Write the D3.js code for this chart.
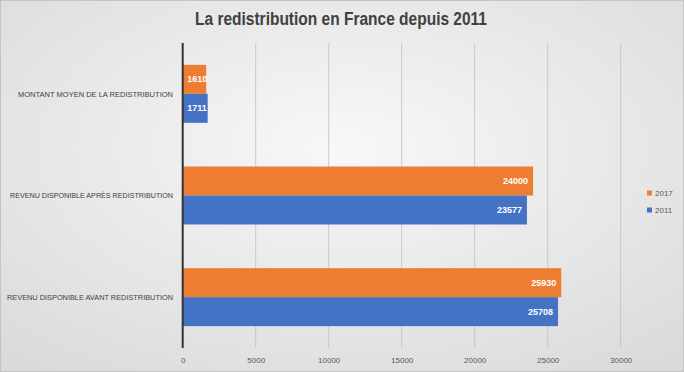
<!DOCTYPE html>
<html>
<head>
<meta charset="utf-8">
<script src="https://cdn.jsdelivr.net/npm/d3@7"></script>
<style>
  body { margin: 0; }
  svg { display: block; }
</style>
</head>
<body>
<svg id="chart"></svg>
<script>
// data
const categories = ["MONTANT MOYEN  DE LA REDISTRIBUTION", "REVENU DISPONIBLE APRÈS REDISTRIBUTION", "REVENU DISPONIBLE AVANT  REDISTRIBUTION"];
const seriesNames = ["2017", "2011"];
const values2017 = [1610, 24000, 25930];
const values2011 = [1711, 23577, 25708];
const tickValues = [0, 5000, 10000, 15000, 20000, 25000, 30000];
const colors = { "2017": "#ED7D31", "2011": "#4472C4" };

const W = 684, H = 372;
const font = "'Liberation Sans', Arial, sans-serif";
const svg = d3.select("#chart").attr("width", W).attr("height", H);

// background gradient
const defs = svg.append("defs");
const grad = defs.append("radialGradient").attr("id", "bg")
    .attr("cx", "50%").attr("cy", "40%").attr("r", "75%");
grad.append("stop").attr("offset", "0%").attr("stop-color", "#f8f8f8");
grad.append("stop").attr("offset", "100%").attr("stop-color", "#dadada");
svg.append("rect").attr("x", 0.5).attr("y", 0.5).attr("width", W - 1).attr("height", H - 1)
    .attr("fill", "url(#bg)").attr("stroke", "#c4c4c4");

// title
svg.append("text")
    .attr("x", 195).attr("y", 25)
    .attr("textLength", 292).attr("lengthAdjust", "spacingAndGlyphs")
    .attr("font-family", font)
    .attr("font-weight", "bold")
    .attr("font-size", 18)
    .attr("fill", "#404040")
    .text("La redistribution en France depuis 2011");

const x = d3.scaleLinear().domain([0, 30000]).range([182.7, 620.7]);
const y = d3.scaleBand().domain(categories).range([43, 348]).paddingInner(0.43).paddingOuter(0.215);
const ySub = d3.scaleBand().domain(seriesNames).range([0, y.bandwidth()]);

// gridlines
svg.append("g").selectAll("line").data(tickValues.slice(1)).join("line")
    .attr("x1", d => x(d)).attr("x2", d => x(d))
    .attr("y1", 43).attr("y2", 348)
    .attr("stroke", "#bfbfbf").attr("stroke-width", 0.8);

// x axis labels
const xAxis = d3.axisBottom(x).tickValues(tickValues).tickSize(0).tickPadding(0).tickFormat(d3.format("d"));
const gx = svg.append("g").attr("transform", "translate(0,357)").call(xAxis);
gx.select(".domain").remove();
gx.selectAll("text")
    .attr("font-family", font)
    .attr("font-size", 8).attr("fill", "#595959");

// bars
const rows = categories.map((c, i) => ({ cat: c, vals: [
    { s: "2017", v: values2017[i] },
    { s: "2011", v: values2011[i] }
] }));

const groups = svg.append("g").selectAll("g").data(rows).join("g")
    .attr("transform", d => `translate(0,${y(d.cat)})`);

groups.selectAll("rect").data(d => d.vals).join("rect")
    .attr("x", x(0))
    .attr("y", d => ySub(d.s))
    .attr("width", d => x(d.v) - x(0))
    .attr("height", ySub.bandwidth())
    .attr("fill", d => colors[d.s]);

groups.selectAll("text.val").data(d => d.vals).join("text")
    .attr("class", "val")
    .attr("x", d => (x(d.v) - x(0) < 40) ? x(0) + 4.5 : x(d.v) - 5)
    .attr("y", d => ySub(d.s) + ySub.bandwidth() / 2)
    .attr("dy", "0.35em")
    .attr("text-anchor", d => (x(d.v) - x(0) < 40) ? "start" : "end")
    .attr("font-family", font)
    .attr("font-weight", "bold")
    .attr("font-size", 9)
    .attr("fill", "#ffffff")
    .text(d => d.v);

// category labels (condensed to the widths in the picture)
const labelWidths = [155, 163, 166];
svg.append("g").selectAll("text").data(categories).join("text")
    .attr("x", 173 - 0)
    .attr("y", d => y(d) + y.bandwidth() / 2)
    .attr("dy", "0.35em")
    .attr("text-anchor", "end")
    .attr("textLength", (d, i) => labelWidths[i])
    .attr("lengthAdjust", "spacingAndGlyphs")
    .attr("font-family", font)
    .attr("font-size", 8)
    .attr("fill", "#404040")
    .text(d => d);

// zero axis line
svg.append("line")
    .attr("x1", x(0)).attr("x2", x(0))
    .attr("y1", 43).attr("y2", 348)
    .attr("stroke", "#333333").attr("stroke-width", 2);

// legend
const legend = svg.append("g").attr("transform", "translate(647,193)");
const li = legend.selectAll("g").data(seriesNames).join("g")
    .attr("transform", (d, i) => `translate(0,${i * 17})`);
li.append("rect").attr("x", 0).attr("y", -2.5).attr("width", 5).attr("height", 5)
    .attr("fill", d => colors[d]);
li.append("text").attr("x", 8).attr("y", 0).attr("dy", "0.35em")
    .attr("font-family", font)
    .attr("font-size", 8).attr("fill", "#595959")
    .text(d => d);
</script>
</body>
</html>
